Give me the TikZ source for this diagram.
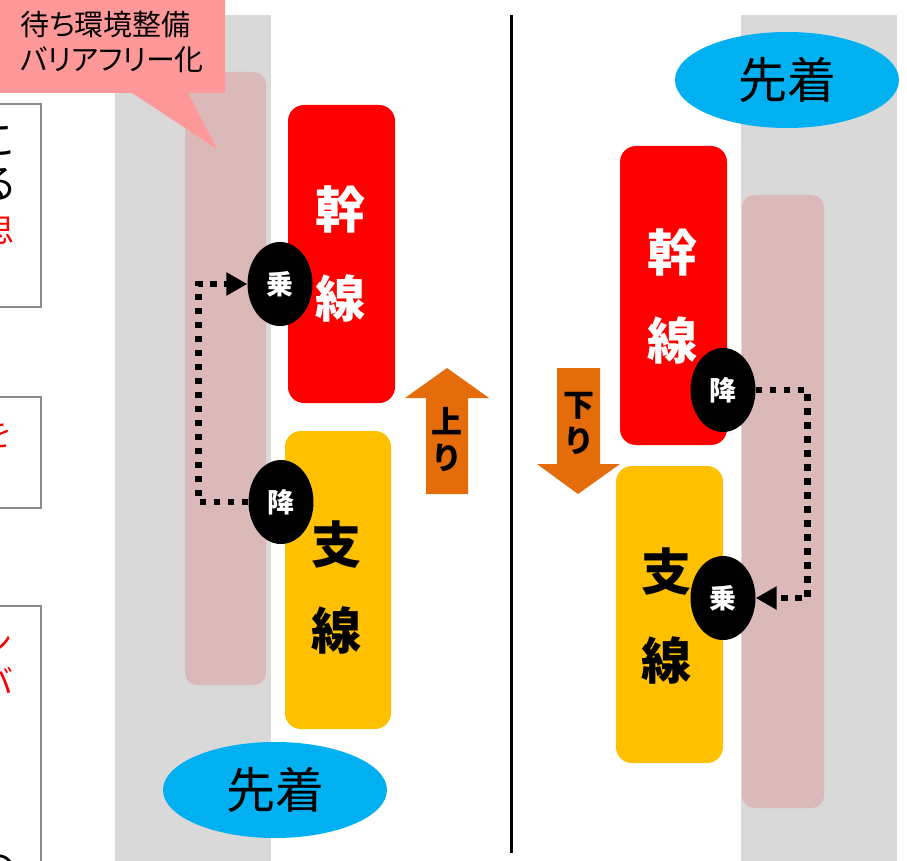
\documentclass[tikz,border=0pt]{standalone}
\usepackage{fontspec}
\setmainfont{Noto Sans CJK JP}[BoldFont={Noto Sans CJK JP Bold}]
\newfontfamily\heavy{Noto Sans CJK JP Black}
\newfontfamily\notefont{Noto Sans CJK JP}[RawFeature=+palt]
\usetikzlibrary{shapes.geometric,arrows.meta}
\definecolor{railgray}{HTML}{D9D9D9}
\definecolor{trackpink}{HTML}{DCB9B9}
\definecolor{notepink}{HTML}{FF9999}
\definecolor{mainred}{HTML}{FF0000}
\definecolor{branchyellow}{HTML}{FFC000}
\definecolor{dirorange}{HTML}{E46C0A}
\definecolor{firstblue}{HTML}{00B0F0}
\definecolor{framegray}{HTML}{8C8C8C}
\begin{document}
\begin{tikzpicture}[x=1pt,y=-1pt,
    track/.style={fill=trackpink,rounded corners=12pt},
    car/.style={rounded corners=16pt},
    stop/.style={ellipse,fill=black,text=white,minimum width=65pt,minimum height=84pt,
      inner sep=0pt,font=\heavy\fontsize{27}{27}\selectfont},
    first/.style={ellipse,fill=firstblue,minimum width=224pt,minimum height=96pt,
      font=\fontsize{49}{49}\selectfont},
    kanji/.style={font=\heavy\fontsize{50}{50}\selectfont},
    dirtext/.style={align=center,font=\heavy\fontsize{31}{36}\selectfont},
    frag/.style={inner sep=0pt,font=\fontsize{40}{40}\selectfont},
    transfer/.style={line width=6.5pt,dash pattern=on 6.5pt off 7.5pt,
      -{Triangle[length=21pt,width=22pt]}}]
  \fill[white] (0,0) rectangle (907,861);
  \useasboundingbox (0,0) rectangle (907,861);
  % platforms
  \fill[railgray] (115,15) rectangle (271,861);
  \fill[railgray] (741,15) rectangle (897,861);
  \fill[track] (185,72) rectangle (266,685);
  \fill[track] (742,195) rectangle (824,808);
  % cut-off notes at the left edge
  \begin{scope}
    \clip (0,0) rectangle (60,861);
    \draw[framegray,line width=2pt] (-10,104) rectangle (41,307);
    \draw[framegray,line width=2pt] (-10,397) rectangle (41,508);
    \draw[framegray,line width=2pt] (-10,606) rectangle (41,880);
    \node[frag] (n1) at (-2,141) {こ};
    \node[frag] (n2) at (-3,184) {る};
    \node[frag,red,font=\fontsize{32}{32}\selectfont] (n3) at (-1,231) {思};
    \node[frag,red,font=\fontsize{32}{32}\selectfont] (n4) at (-3,434) {を};
    \node[frag,red,font=\fontsize{32}{32}\selectfont] (n5) at (-3,643) {ン};
    \node[frag,red,font=\fontsize{32}{32}\selectfont] (n6) at (-2,681) {バ};
    \node[frag] (n7) at (-3,870) {の};
  \end{scope}
  % callout
  \fill[notepink] (0,-2) -- (225,-2) -- (225,93) -- (188,93) -- (217,149)
    -- (132,93) -- (0,93) -- cycle;
  \node[anchor=north west,align=left,inner sep=0pt,
    font=\notefont\fontsize{29}{35}\selectfont] (note) at (20,11) {待ち環境整備\\バリアフリー化};
  % trains
  \fill[mainred,car] (288,105) rectangle (395,403);
  \fill[branchyellow,car] (285,431) rectangle (391,729);
  \fill[mainred,car] (620,146) rectangle (727,445);
  \fill[branchyellow,car] (616,466) rectangle (723,763);
  \draw
    (340,210) node[kanji,white] (mainL1){幹}
    (340,298) node[kanji,white] (mainL2){線}
    (336,545) node[kanji] (branchL1){支}
    (336,630) node[kanji] (branchL2){線}
    (672,252) node[kanji,white] (mainR1){幹}
    (672,340) node[kanji,white] (mainR2){線}
    (666,572) node[kanji] (branchR1){支}
    (666,660) node[kanji] (branchR2){線};
  % direction arrows
  \fill[dirorange] (447,368) -- (489,398) -- (468,398) -- (468,494) -- (426,494)
    -- (426,398) -- (405,398) -- cycle;
  \fill[dirorange] (557,368) -- (600,368) -- (600,464) -- (620,464) -- (578,494)
    -- (537,464) -- (557,464) -- cycle;
  \node[dirtext] (up) at (447,440) {上\\り};
  \node[dirtext] (down) at (579,424) {下\\り};
  % stops
  \draw
    (280,284) node[stop] (boardL){乗}
    (281,502) node[stop] (alightL){降}
    (723,390) node[stop] (alightR){降}
    (723,598) node[stop] (boardR){乗};
  \begin{scope}[transfer]
    \draw (alightL.west) -- ++(-50,0) |- (boardL.west);
    \draw (alightR.east) -- ++(52,0) |- (boardR.east);
  \end{scope}
  % divider
  \draw[line width=3pt] (511,15) -- (511,853);
  % first arrival
  \draw
    (787,80) node[first] (firstR){先着}
    (275,790) node[first] (firstL){先着};
\end{tikzpicture}
\end{document}
